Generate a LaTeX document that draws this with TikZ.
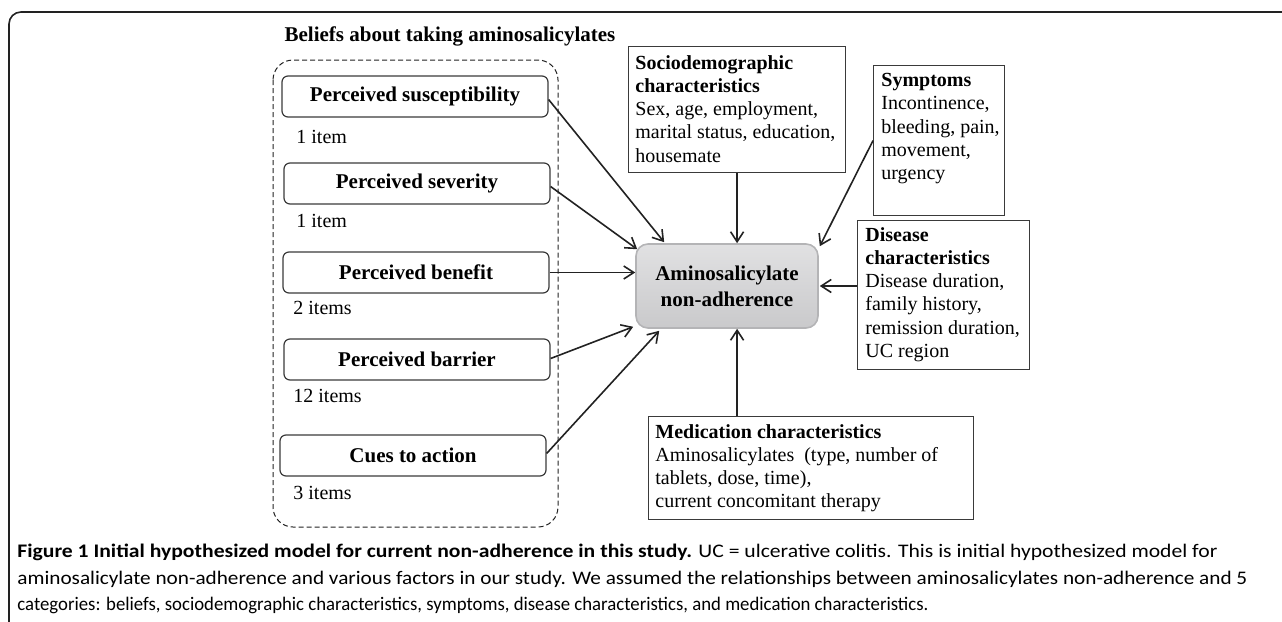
\documentclass[tikz,border=0pt]{standalone}
\usepackage{fontspec}
\setmainfont{Liberation Serif}
\newfontfamily\capfont{Carlito}
\usetikzlibrary{arrows.meta,calc}
\definecolor{ink}{HTML}{222222}
\definecolor{edge}{HTML}{3A3A3A}
\definecolor{mainfill}{HTML}{D4D4D6}
\definecolor{mainedge}{HTML}{B4B4B6}
\tikzset{
  belief/.style={draw=edge, line width=0.6pt, rounded corners=3pt, minimum width=133pt, minimum height=20.5pt, inner sep=0pt, font=\fontsize{10.5pt}{12pt}\selectfont\bfseries},
  itemlbl/.style={anchor=west, inner sep=0pt, font=\fontsize{10pt}{12pt}\selectfont},
  infobox/.style={draw=edge, line width=0.6pt, anchor=north west, inner sep=0pt},
  infotext/.style={anchor=north west, align=left, inner sep=0pt, font=\fontsize{10pt}{11.6pt}\selectfont},
  arr/.style={draw=ink, line width=0.8pt, -{Straight Barb[length=5pt,width=6.5pt,line width=0.8pt]}},
  captext/.style={anchor=west, inner sep=0pt, font=\capfont\fontsize{9.6pt}{11pt}\selectfont},
}
\begin{document}
\begin{tikzpicture}[x=0.5pt,y=-0.5pt]
\useasboundingbox (0,0) rectangle (1282,622);
% outer frame
\draw[draw=ink, line width=0.8pt, rounded corners=6pt] (1290,12) -- (9,12) -- (9,630);
% title
\node[font=\fontsize{10.5pt}{12pt}\selectfont\bfseries, inner sep=0pt] (title) at (450,36) {Beliefs about taking aminosalicylates};
% dashed group
\draw[draw=ink, line width=0.5pt, dashed, dash pattern=on 2.5pt off 1.5pt, rounded corners=10pt] (273,60) rectangle (558,527);
% belief boxes
\node[belief] (susc) at (415,96.5) {Perceived susceptibility};
\node[itemlbl] (i1) at (296,137) {1 item};
\node[belief] (sev) at (417,183.5) {Perceived severity};
\node[itemlbl] (i2) at (296,221) {1 item};
\node[belief] (ben) at (416,272.5) {Perceived benefit};
\node[itemlbl] (i3) at (293,308) {2 items};
\node[belief] (bar) at (417,359.5) {Perceived barrier};
\node[itemlbl] (i4) at (293,396) {12 items};
\node[belief] (cue) at (413,455.5) {Cues to action};
\node[itemlbl] (i5) at (293,493) {3 items};
% main node
\node[draw=mainedge, line width=0.8pt, rounded corners=6pt, top color=mainfill!70!white, bottom color=mainfill!95!black, minimum width=91pt, minimum height=42pt, inner sep=0pt, align=center, font=\fontsize{10.5pt}{13pt}\selectfont\bfseries] (main) at (727,286) {Aminosalicylate\\non-adherence};
% sociodemographic
\node[infobox, minimum width=108.5pt, minimum height=63pt] (socio) at (628,46) {};
\node[infotext] (sociot) at ($(socio.north west)+(7,9)$) {\textbf{Sociodemographic}\\\textbf{characteristics}\\Sex, age, employment,\\marital status, education,\\housemate};
% symptoms
\node[infobox, minimum width=65.5pt, minimum height=75pt] (symp) at (873,65) {};
\node[infotext] (sympt) at ($(symp.north west)+(8,8)$) {\textbf{Symptoms}\\Incontinence,\\bleeding, pain,\\movement,\\urgency};
% disease
\node[infobox, minimum width=86pt, minimum height=74.5pt] (dis) at (857,220) {};
\node[infotext] (dist) at ($(dis.north west)+(8,7)$) {\textbf{Disease}\\\textbf{characteristics}\\Disease duration,\\family history,\\remission duration,\\UC region};
% medication
\node[infobox, minimum width=162.5pt, minimum height=51.5pt] (med) at (648,416) {};
\node[infotext] (medt) at ($(med.north west)+(7,8)$) {\textbf{Medication characteristics}\\Aminosalicylates\ \ (type, number of\\tablets, dose, time),\\current concomitant therapy};
% connectors
\draw[arr] ($(susc.east)+(0,3)$) -- ($(main.north west)+(29,-1)$);
\draw[arr] ($(sev.east)+(0,3)$) -- ($(main.north west)+(2,6)$);
\draw[arr] (ben.east) -- (ben.east -| main.west);
\draw[arr] ($(bar.east)+(0,-1)$) -- ($(main.south west)+(-2,-2)$);
\draw[arr] ($(cue.east)+(0,-2)$) -- ($(main.south west)+(24,2)$);
\draw[arr] (socio.south) -- (socio.south |- main.north);
\draw[arr] (symp.west) -- ($(main.north east)+(1,3)$);
\draw[arr] (dis.west |- main.east) -- ($(main.east)+(1,0)$);
\draw[arr] (med.north -| socio.south) -- (main.south -| socio.south);
% caption
\node[captext] (cap1) at (17,552) {\resizebox{600pt}{\height}{\textbf{Figure 1 Initial hypothesized model for current non-adherence in this study.} UC = ulcerative colitis. This is initial hypothesized model for}};
\node[captext] (cap2) at (17,579) {\resizebox{615pt}{\height}{aminosalicylate non-adherence and various factors in our study. We assumed the relationships between aminosalicylates non-adherence and 5}};
\node[captext] (cap3) at (17,605) {\resizebox{455.5pt}{\height}{categories: beliefs, sociodemographic characteristics, symptoms, disease characteristics, and medication characteristics.}};
\end{tikzpicture}
\end{document}
